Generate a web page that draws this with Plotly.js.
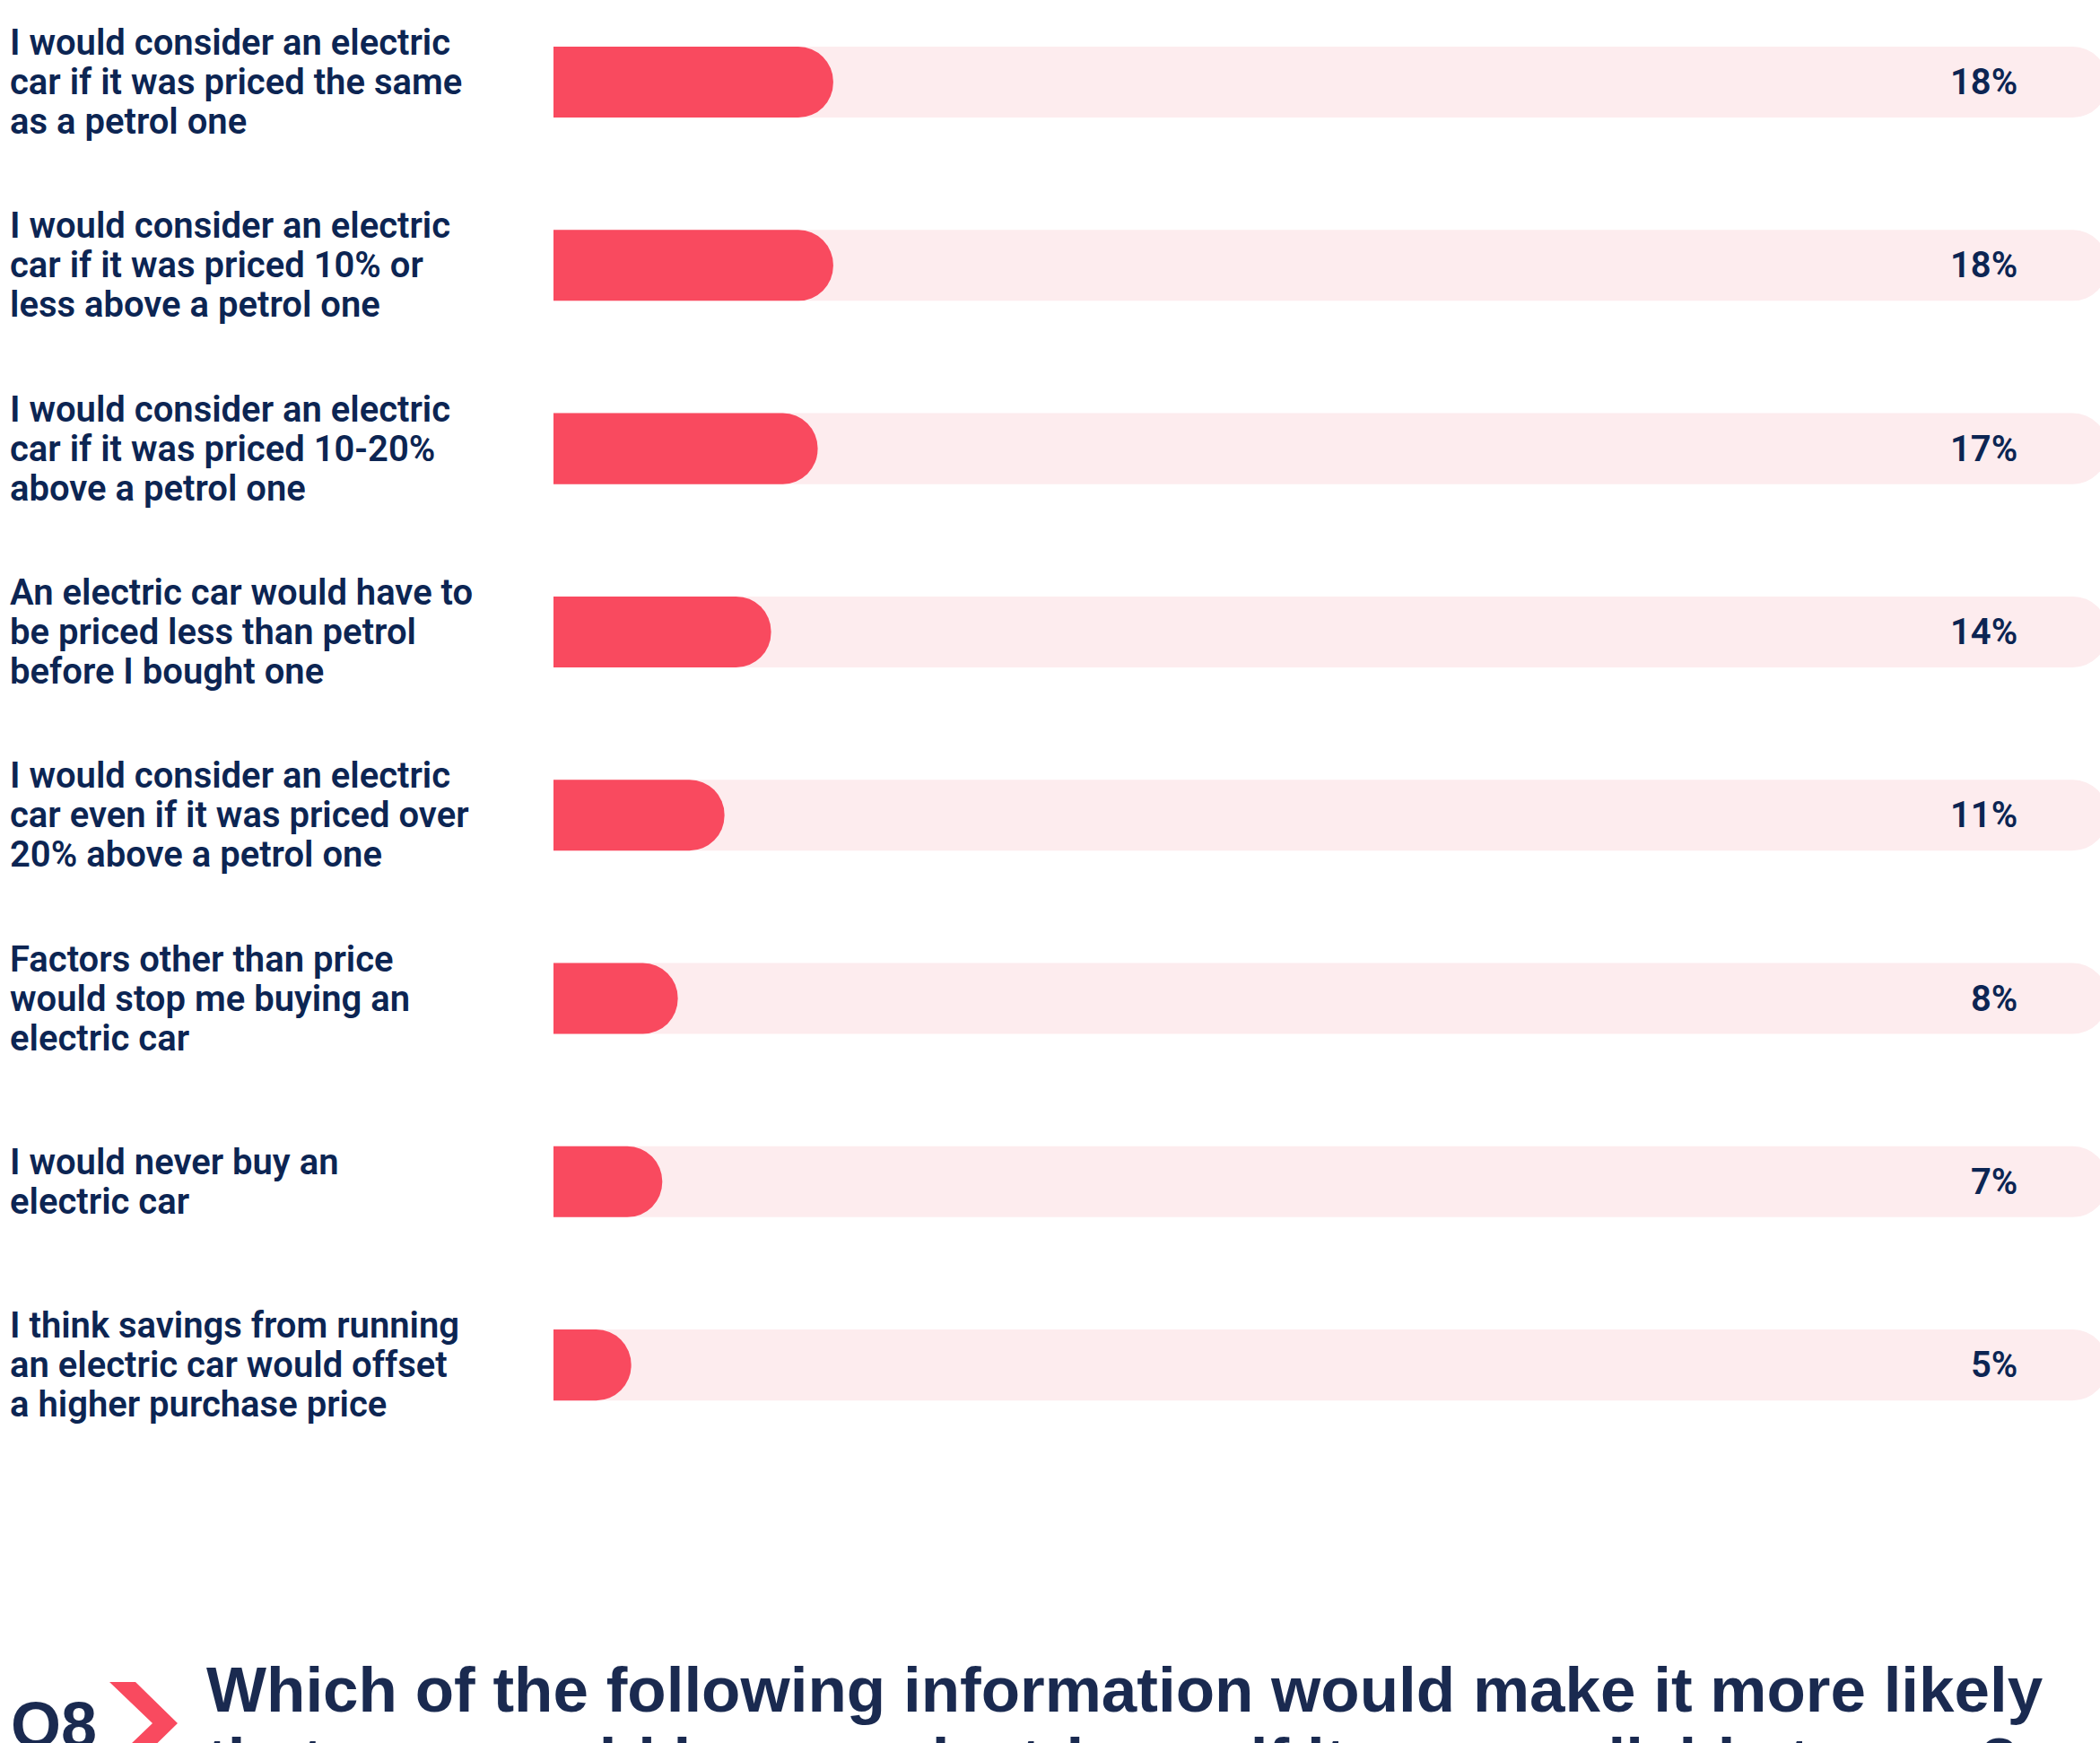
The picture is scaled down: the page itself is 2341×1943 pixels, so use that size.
<!DOCTYPE html>
<html>
<head>
<meta charset="utf-8">
<script src="https://cdn.plot.ly/plotly-3.0.1.min.js"></script>
<style>
  html, body { margin: 0; padding: 0; background: #ffffff; }
  #chart { width: 2341px; height: 1943px; }
</style>
</head>
<body>
<div id="chart"></div>
<script>
// ---- data ----
const categories = [
  "I would consider an electric<br>car if it was priced the same<br>as a petrol one",
  "I would consider an electric<br>car if it was priced 10% or<br>less above a petrol one",
  "I would consider an electric<br>car if it was priced 10-20%<br>above a petrol one",
  "An electric car would have to<br>be priced less than petrol<br>before I bought one",
  "I would consider an electric<br>car even if it was priced over<br>20% above a petrol one",
  "Factors other than price<br>would stop me buying an<br>electric car",
  "I would never buy an<br>electric car",
  "I think savings from running<br>an electric car would offset<br>a higher purchase price"
];
const values = [18, 18, 17, 14, 11, 8, 7, 5];
const valueLabels = values.map(v => v + "%");
const fullScale = 100;
const questionTag = "Q8";
const titleLines = [
  "Which of the following information would make it more likely",
  "that you would buy an electric car if it was available to you?"
];

// ---- styling ----
const W = 2341, H = 1943;
const marginL = 617, marginT = 0, marginB = 243;
const plotH = H - marginT - marginB;
const plotW = W - marginL;
const navy = "#0c2553";
const titleNavy = "#1a2a50";
const red = "#f94a5f";
const pink = "#fdecee";

function paperX(px) { return (px - marginL) / plotW; }
function paperY(py) { return 1 - (py - marginT) / plotH; }

const traces = [
  {
    type: "bar", orientation: "h",
    y: categories,
    x: categories.map(() => fullScale),
    xaxis: "x", yaxis: "y",
    marker: { color: pink, cornerradius: 40, line: { width: 0 } },
    width: 0.387,
    hoverinfo: "skip"
  },
  {
    type: "bar", orientation: "h",
    y: categories,
    x: values,
    xaxis: "x", yaxis: "y2",
    marker: { color: red, cornerradius: 40, line: { width: 0 } },
    width: 0.387,
    hoverinfo: "skip"
  }
];

const annotations = [];
// category labels, left aligned, one annotation per line for tight line spacing
categories.forEach((c) => {
  const lines = c.split("<br>");
  const n = lines.length;
  lines.forEach((ln, k) => {
    annotations.push({
      xref: "paper", yref: "y",
      x: paperX(9), y: c,
      xanchor: "left", yanchor: "middle",
      yshift: ((n - 1) / 2 - k) * 44,
      text: ln, showarrow: false, align: "left",
      font: { family: "Roboto, 'Liberation Sans', sans-serif", size: 40, weight: 600, color: navy }
    });
  });
});
// percent labels
values.forEach((v, i) => {
  annotations.push({
    xref: "x", yref: "y",
    x: 94.3, y: categories[i],
    xanchor: "right", yanchor: "middle",
    text: valueLabels[i], showarrow: false,
    font: { family: "Roboto, 'Liberation Sans', sans-serif", size: 40, weight: 600, color: navy }
  });
});
// question tag and title
annotations.push({
  xref: "paper", yref: "paper",
  x: paperX(10), y: paperY(1923),
  xanchor: "left", yanchor: "middle",
  text: questionTag, showarrow: false,
  font: { family: "'Liberation Sans', Arial, sans-serif", size: 72, weight: 700, color: titleNavy }
});
titleLines.forEach((t, k) => {
  annotations.push({
    xref: "paper", yref: "paper",
    x: paperX(228), y: paperY(1884 + k * 78),
    xanchor: "left", yanchor: "middle",
    text: t, showarrow: false, align: "left",
    font: { family: "'Liberation Sans', Arial, sans-serif", size: 71, weight: 700, color: titleNavy }
  });
});

const chevron = [[122,1875],[151,1875],[198,1921],[151,1967],[122,1967],[170,1921]];
const chevPath = "M " + chevron.map(p => paperX(p[0]).toFixed(5) + "," + paperY(p[1]).toFixed(5)).join(" L ") + " Z";

const yAxisCommon = {
  type: "category", range: [7.873, -0.448],
  showticklabels: false, showgrid: false, zeroline: false, showline: false, ticks: "", fixedrange: true
};

const layout = {
  width: W, height: H,
  margin: { l: marginL, r: 0, t: marginT, b: marginB, pad: 0 },
  paper_bgcolor: "#ffffff",
  plot_bgcolor: "#ffffff",
  barmode: "overlay",
  showlegend: false,
  xaxis: { range: [0, 99.5], visible: false, showgrid: false, zeroline: false, fixedrange: true },
  yaxis: Object.assign({}, yAxisCommon),
  yaxis2: Object.assign({}, yAxisCommon, { overlaying: "y", matches: "y" }),
  annotations: annotations,
  shapes: [{
    type: "path", xref: "paper", yref: "paper",
    path: chevPath, fillcolor: red, line: { width: 0 }, layer: "above"
  }]
};

Plotly.newPlot("chart", traces, layout, { displayModeBar: false, staticPlot: true });
</script>
</body>
</html>
